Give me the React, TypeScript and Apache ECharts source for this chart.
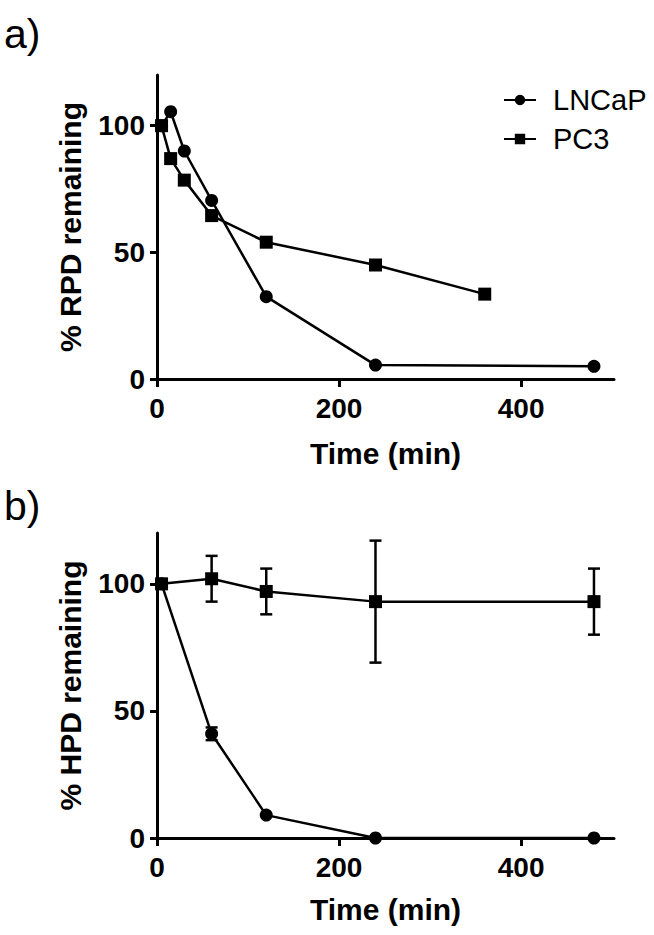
import React, { useEffect, useRef } from "react";
import * as echarts from "echarts";

// Panel a) RPD
const rpdTimeLNCaP = [5, 15, 30, 60, 120, 240, 480];
const rpdLNCaP = [100, 105.5, 90, 70.5, 32.5, 5.5, 5];
const rpdTimePC3 = [5, 15, 30, 60, 120, 240, 360];
const rpdPC3 = [100, 87, 78.5, 64.5, 54, 45, 33.5];

// Panel b) HPD
const hpdTime = [5, 60, 120, 240, 480];
const hpdLNCaP = [100, 41, 9, 0, 0];
const hpdLNCaPErr = [0, 2.5, 0, 0, 0];
const hpdPC3 = [100, 102, 97, 93, 93];
const hpdPC3Err = [0, 9, 9, 24, 13];

const xTicks = [0, 200, 400];
const yTicks = [0, 50, 100];
const seriesNames = ["LNCaP", "PC3"];

const FONT = "'Liberation Sans', Arial, sans-serif";

export default function App() {
  const ref = useRef<HTMLDivElement>(null);
  useEffect(() => {
    document.body.style.margin = "0";
    const chart = echarts.init(ref.current!, undefined, { renderer: "svg" });
    const pair = (xs: number[], ys: number[]) => xs.map((x, i) => [x, ys[i]]);
    const errData = (xs: number[], ys: number[], es: number[]) =>
      xs.map((x, i) => [x, ys[i] - es[i], ys[i] + es[i]]).filter((d, i) => es[i] > 0);

    const xAxisBase = (gridIndex: number, gap: number) => ({
      type: "value",
      gridIndex,
      min: 0,
      max: 502,
      name: "Time (min)",
      nameLocation: "middle",
      nameGap: gap,
      nameTextStyle: { fontFamily: FONT, fontSize: 30, fontWeight: "bold", color: "#000" },
      axisLine: { show: true, lineStyle: { color: "#000", width: 3 } },
      axisTick: { show: true, length: 8, lineStyle: { color: "#000", width: 3 }, customValues: xTicks },
      axisLabel: { fontFamily: FONT, fontSize: 28, fontWeight: "bold", color: "#000", margin: 15, customValues: xTicks },
      splitLine: { show: false },
    });
    const yAxisBase = (gridIndex: number, name: string) => ({
      type: "value",
      gridIndex,
      min: 0,
      max: 120,
      name,
      nameLocation: "middle",
      nameGap: 72,
      nameRotate: 90,
      nameTextStyle: { fontFamily: FONT, fontSize: 30, fontWeight: "bold", color: "#000" },
      axisLine: { show: true, lineStyle: { color: "#000", width: 3 } },
      axisTick: { show: true, length: 7, lineStyle: { color: "#000", width: 3 }, customValues: yTicks },
      axisLabel: { fontFamily: FONT, fontSize: 28, fontWeight: "bold", color: "#000", margin: 12, customValues: yTicks },
      splitLine: { show: false },
    });

    const lineSeries = (name: string, data: number[][], symbol: string, idx: number) => ({
      type: "line",
      name,
      xAxisIndex: idx,
      yAxisIndex: idx,
      data,
      symbol,
      symbolSize: 13,
      showSymbol: true,
      itemStyle: { color: "#000" },
      lineStyle: { color: "#000", width: 2.5 },
      z: 3,
    });

    const errSeries = (data: number[][], idx: number) => ({
      type: "custom",
      xAxisIndex: idx,
      yAxisIndex: idx,
      data,
      z: 2,
      silent: true,
      renderItem: (params: any, api: any) => {
        const x = api.value(0);
        const lo = api.coord([x, api.value(1)]);
        const hi = api.coord([x, api.value(2)]);
        const cw = 6;
        const style = { stroke: "#000", lineWidth: 2.5 };
        return {
          type: "group",
          children: [
            { type: "line", shape: { x1: lo[0], y1: lo[1], x2: hi[0], y2: hi[1] }, style },
            { type: "line", shape: { x1: lo[0] - cw, y1: lo[1], x2: lo[0] + cw, y2: lo[1] }, style },
            { type: "line", shape: { x1: hi[0] - cw, y1: hi[1], x2: hi[0] + cw, y2: hi[1] }, style },
          ],
        };
      },
    });

    chart.setOption({
      animation: false,
      backgroundColor: "#fff",
      grid: [
        { left: 157, right: 40, top: 75, height: 304 },
        { left: 157, right: 40, top: 533, height: 305 },
      ],
      xAxis: [xAxisBase(0, 59), xAxisBase(1, 56)],
      yAxis: [yAxisBase(0, "% RPD remaining"), yAxisBase(1, "% HPD remaining")],
      legend: {
        data: seriesNames,
        orient: "vertical",
        left: 498,
        top: 80,
        itemWidth: 32,
        itemHeight: 13,
        itemGap: 9,
        selectedMode: false,
        textStyle: { fontFamily: FONT, fontSize: 29, color: "#000", lineHeight: 30, padding: [0, 0, 0, 12] },
      },
      graphic: [
        { type: "text", left: 4, top: 13, style: { text: "a)", font: `41px ${FONT}`, fill: "#000" } },
        { type: "text", left: 4, top: 485, style: { text: "b)", font: `41px ${FONT}`, fill: "#000" } },
      ],
      series: [
        lineSeries(seriesNames[0], pair(rpdTimeLNCaP, rpdLNCaP), "circle", 0),
        lineSeries(seriesNames[1], pair(rpdTimePC3, rpdPC3), "rect", 0),
        errSeries(errData(hpdTime, hpdLNCaP, hpdLNCaPErr), 1),
        errSeries(errData(hpdTime, hpdPC3, hpdPC3Err), 1),
        lineSeries(seriesNames[0], pair(hpdTime, hpdLNCaP), "circle", 1),
        lineSeries(seriesNames[1], pair(hpdTime, hpdPC3), "rect", 1),
      ],
    });
    return () => chart.dispose();
  }, []);
  return <div ref={ref} style={{ width: 654, height: 935 }} />;
}
